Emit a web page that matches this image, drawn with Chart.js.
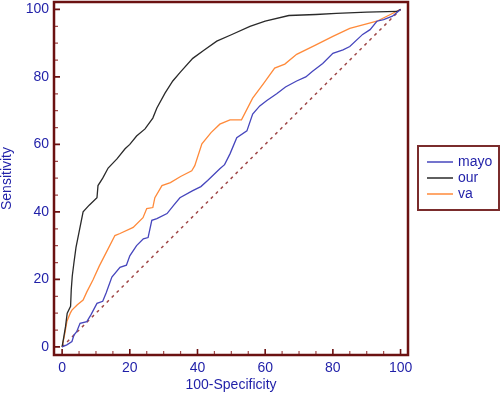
<!DOCTYPE html>
<html>
<head>
<meta charset="utf-8">
<script src="https://cdn.jsdelivr.net/npm/chart.js@4"></script>
<style>
  html, body { margin: 0; padding: 0; background: #fff; }
  canvas { display: block; }
</style>
</head>
<body>
<canvas id="roc" width="500" height="394"></canvas>
<script>
// ROC curves, [100-specificity, sensitivity]
const mayo = [[0,0],[1.4,0.6],[2.9,1.6],[3.5,3.5],[4.3,4.5],[5.3,7],[7.3,7.5],[8.5,9.5],[10.3,12.9],[12,13.5],
  [13,16],[14.7,20.7],[17.1,23.6],[19,24.2],[20,27],[22,30],[24,32],[25.4,32.4],[26.5,37.5],[28,38],[31,39.5],
  [33,42],[34.8,44.2],[38.6,46.3],[41,47.5],[43,49.3],[46.6,52.8],[48,54],[49.6,57.2],[51.6,62],[54.6,64],
  [56.3,69],[58.4,71.4],[60.5,73],[63.4,75],[66,77],[69.3,78.8],[72,80],[74,81.7],[77,84],[80,87],[83,88],
  [85,89],[88.8,92.6],[91,94],[93,96.5],[95,97],[97.6,98],[100,100]];
const our = [[0,0],[0.5,3],[1,6],[1.5,10],[2.5,12],[2.7,17],[3,21],[3.5,25],[4.1,29.5],[5,34],[6.2,40],[8,42],
  [10.3,44.2],[10.6,47.8],[12,50],[13.6,53],[16.2,55.7],[18.6,58.7],[20,60],[22,62.5],[24.5,64.6],[26.8,67.8],
  [28,70.8],[30.4,75.2],[32.7,78.8],[35,81.5],[38.6,85.5],[42,88],[45.7,90.6],[50,92.5],[55.5,95],[60,96.5],
  [67,98.2],[75,98.5],[81,98.8],[90,99.2],[99,99.4],[100,100]];
const va = [[0,0],[0.8,4],[1.4,7.5],[2.4,10],[2.9,10.9],[4.5,12.5],[6.2,13.9],[7.3,16.3],[9.1,19.8],[11,24],
  [13.2,28.3],[15.6,33],[17.1,33.6],[21,35.4],[23.9,38.3],[25,41],[26.8,41.3],[27.4,44.2],[29.5,47.8],[32,48.7],
  [35,50.5],[38.3,52.2],[39.2,53.7],[41.3,60.2],[44,63.5],[46.6,66],[49.6,67.3],[53,67.3],[56.3,73.7],[59.5,78],
  [62.8,82.6],[65.8,83.8],[69.3,86.7],[75,89.5],[80,92],[85,94.4],[93,96.5],[97,98.5],[100,100]];
const diagonal = [[0,0],[100,100]];

const tickLabels = [0, 20, 40, 60, 80, 100];
const minorTicks = [0,5,10,15,20,25,30,35,40,45,50,55,60,65,70,75,80,85,90,95,100];

const toPts = arr => arr.map(p => ({ x: p[0], y: p[1] }));
const frameColor = '#6b1111';
const textColor = '#1f1fa8';
const font = { family: "'Liberation Sans', Arial, sans-serif", size: 14 };

const framePlugin = {
  id: 'frame',
  afterDatasetsDraw(chart) {
    const { ctx, chartArea: a, scales } = chart;
    ctx.save();
    // tick marks pointing inward
    minorTicks.forEach(v => {
      const major = v % 20 === 0;
      ctx.strokeStyle = major ? frameColor : '#a04a4a';
      ctx.lineWidth = major ? 1.6 : 1.2;
      const len = major ? 6 : 4;
      const px = scales.x.getPixelForValue(v);
      const py = scales.y.getPixelForValue(v);
      ctx.beginPath();
      ctx.moveTo(px, a.bottom); ctx.lineTo(px, a.bottom - len);
      ctx.moveTo(a.left, py); ctx.lineTo(a.left + len, py);
      ctx.stroke();
    });
    ctx.strokeStyle = frameColor;
    ctx.lineWidth = 2.5;
    ctx.strokeRect(a.left, a.top, a.right - a.left, a.bottom - a.top);

    // legend box
    ctx.strokeStyle = '#7a2c2c';
    ctx.lineWidth = 2;
    ctx.strokeRect(418, 146, 81, 64);
    ctx.font = "14px 'Liberation Sans', Arial, sans-serif";
    ctx.textBaseline = 'middle';
    let y = 162;
    chart.data.datasets.forEach(ds => {
      if (!ds.inLegend) return;
      ctx.strokeStyle = ds.borderColor;
      ctx.lineWidth = 1.5;
      ctx.beginPath(); ctx.moveTo(427, y); ctx.lineTo(453, y); ctx.stroke();
      ctx.fillStyle = textColor;
      ctx.fillText(ds.label, 458, y);
      y += 16;
    });
    ctx.restore();
  }
};

new Chart(document.getElementById('roc'), {
  type: 'line',
  data: {
    datasets: [
      { label: 'mayo', data: toPts(mayo), borderColor: '#4646bd', inLegend: true },
      { label: 'our', data: toPts(our), borderColor: '#2a2a2a', inLegend: true },
      { label: 'va', data: toPts(va), borderColor: '#ff8a3a', inLegend: true },
      { label: 'ref', data: toPts(diagonal), borderColor: '#a04848', borderDash: [3, 4], borderWidth: 1.5 }
    ]
  },
  options: {
    responsive: false,
    animation: false,
    devicePixelRatio: 1,
    elements: { point: { radius: 0 }, line: { borderWidth: 1.3, tension: 0 } },
    layout: { padding: { top: 2, right: 92, left: 0, bottom: 0 } },
    plugins: { legend: { display: false }, tooltip: { enabled: false } },
    scales: {
      x: {
        type: 'linear', min: -2.4, max: 102.2,
        afterBuildTicks: s => { s.ticks = tickLabels.map(v => ({ value: v })); },
        afterFit: s => { s.height = 39; s.paddingLeft = 0; s.paddingRight = 0; },
        grid: { display: false, drawTicks: false },
        border: { display: false },
        ticks: { color: textColor, font, padding: 5, maxRotation: 0 },
        title: { display: true, text: '100-Specificity', color: textColor, font: { ...font, lineHeight: 1 }, padding: { top: 2, bottom: 2 } }
      },
      y: {
        type: 'linear', min: -2.4, max: 102.2,
        afterBuildTicks: s => { s.ticks = tickLabels.map(v => ({ value: v })); },
        afterFit: s => { s.width = 54; s.paddingTop = 0; s.paddingBottom = 0; },
        grid: { display: false, drawTicks: false },
        border: { display: false },
        ticks: { color: textColor, font, padding: 5 },
        title: { display: true, text: 'Sensitivity', color: textColor, font: { ...font, lineHeight: 1 }, padding: { top: 0, bottom: 0 } }
      }
    }
  },
  plugins: [framePlugin]
});
</script>
</body>
</html>
